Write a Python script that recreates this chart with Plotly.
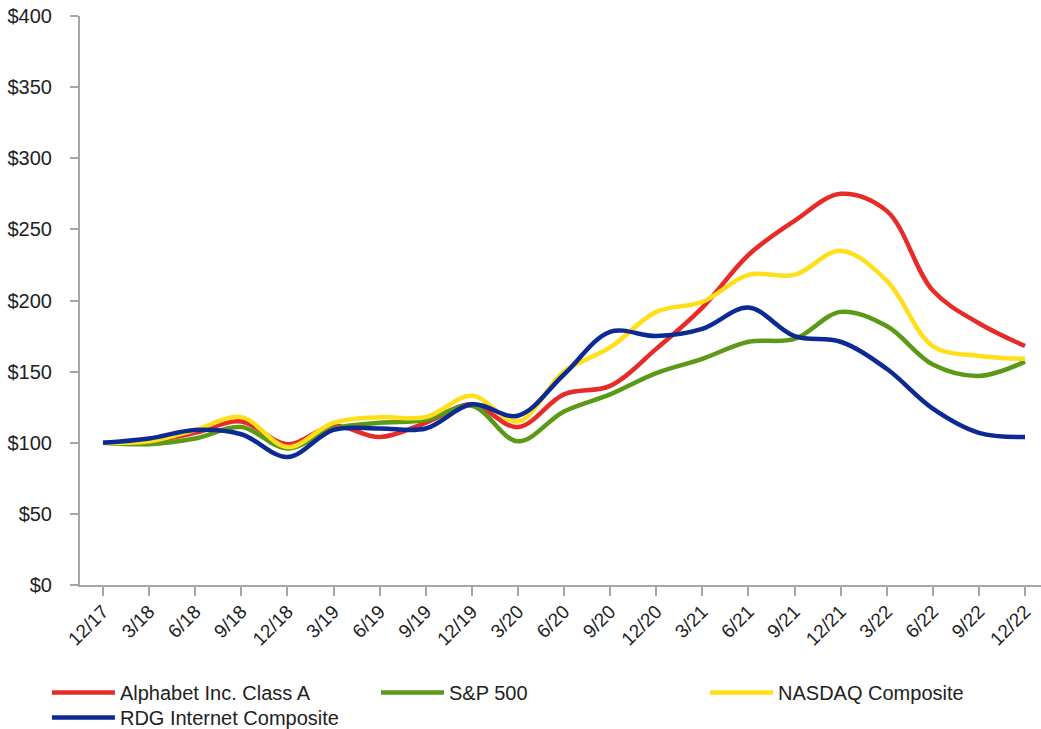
import plotly.graph_objects as go

quarters = ["12/17", "3/18", "6/18", "9/18", "12/18", "3/19", "6/19", "9/19", "12/19", "3/20",
            "6/20", "9/20", "12/20", "3/21", "6/21", "9/21", "12/21", "3/22", "6/22", "9/22", "12/22"]

alphabet = [100, 101, 107, 115, 99, 112, 104, 114, 127, 111, 134, 140, 166, 195, 232, 256, 275, 263, 207, 184, 168]
sp500 = [100, 99, 103, 111, 96, 110, 114, 116, 126, 101, 122, 134, 149, 159, 171, 173, 192, 182, 155, 147, 157]
nasdaq = [100, 101, 109, 118, 97, 114, 118, 118, 133, 115, 150, 167, 192, 199, 218, 218, 235, 214, 168, 161, 159]
rdg = [100, 103, 109, 106, 90, 109, 110, 110, 127, 119, 148, 178, 175, 180, 195, 175, 171, 152, 124, 107, 104]

y_ticks = [0, 50, 100, 150, 200, 250, 300, 350, 400]
y_labels = ["$" + str(v) for v in y_ticks]

series = [
    ("Alphabet Inc. Class A", alphabet, "#E62B28", "legend"),
    ("S&P 500", sp500, "#5A9A17", "legend2"),
    ("NASDAQ Composite", nasdaq, "#FFDE1A", "legend3"),
    ("RDG Internet Composite", rdg, "#0C2994", "legend4"),
]

fig = go.Figure()
for name, vals, color, lg in series:
    fig.add_trace(go.Scatter(
        x=quarters, y=vals, name=name, mode="lines", legend=lg,
        line=dict(color=color, width=4.5, shape="spline", smoothing=1.0),
    ))

legend_common = dict(
    orientation="v", xanchor="left", yanchor="top",
    font=dict(size=20, color="#222222", family="Liberation Sans, Arial, sans-serif"),
    itemwidth=63, tracegroupgap=0, bgcolor="rgba(0,0,0,0)",
)

fig.update_layout(
    width=1041, height=729,
    margin=dict(l=80, r=0, t=16, b=144, autoexpand=False),
    paper_bgcolor="white", plot_bgcolor="white",
    font=dict(family="Liberation Sans, Arial, sans-serif", color="#222222"),
    showlegend=True,
    legend=dict(x=-0.0344, y=-0.1547, **legend_common),
    legend2=dict(x=0.308, y=-0.1547, **legend_common),
    legend3=dict(x=0.6504, y=-0.1547, **legend_common),
    legend4=dict(x=-0.0344, y=-0.1986, **legend_common),
    xaxis=dict(
        type="category", range=[-0.499, 20.347], automargin=False,
        showgrid=False, showline=True, linecolor="#a6a6a6", linewidth=2,
        ticks="outside", ticklen=9, tickcolor="#a6a6a6", tickwidth=1.5,
        tickangle=-45, tickfont=dict(size=19, color="#222222"),
        ticklabelstandoff=-3,
        zeroline=False,
    ),
    yaxis=dict(
        range=[0, 400], tickvals=y_ticks, ticktext=y_labels, automargin=False,
        showgrid=False, showline=True, linecolor="#a6a6a6", linewidth=2,
        ticks="outside", ticklen=8, tickcolor="#a6a6a6", tickwidth=1.5,
        ticklabelstandoff=14, ticklabeloverflow="allow",
        tickfont=dict(size=20, color="#222222"),
        zeroline=False,
    ),
)

# remove the default 8px page margin so the figure sits at the window's top-left corner
fig.write_html("out.html", config={"displayModeBar": False},
               post_script="document.body.style.margin='0';")
